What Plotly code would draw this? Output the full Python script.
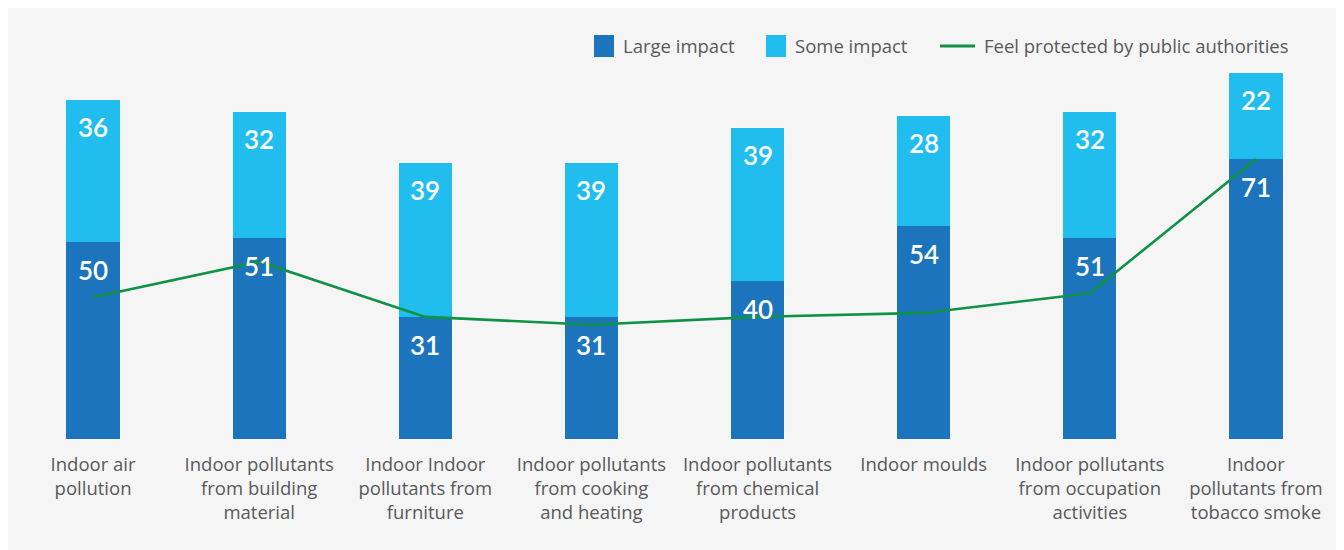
import plotly.graph_objects as go

categories = [
    "Indoor air<br>pollution",
    "Indoor pollutants<br>from building<br>material",
    "Indoor Indoor<br>pollutants from<br>furniture",
    "Indoor pollutants<br>from cooking<br>and heating",
    "Indoor pollutants<br>from chemical<br>products",
    "Indoor moulds",
    "Indoor pollutants<br>from occupation<br>activities",
    "Indoor<br>pollutants from<br>tobacco smoke",
]
large_impact = [50, 51, 31, 31, 40, 54, 51, 71]
some_impact = [36, 32, 39, 39, 39, 28, 32, 22]
feel_protected = [36, 45, 31, 29, 31, 32, 37, 71]
series_names = ["Large impact", "Some impact", "Feel protected by public authorities"]

DARK = "#1c75bc"
LIGHT = "#21bdee"
GREEN = "#0f9146"
GRAY_TXT = "#58595b"
TXT_FAMILY = "Open Sans, sans-serif"
LABEL_FONT = dict(family="Lato, sans-serif", size=26, color="white", weight=600)

# figure geometry (page is offset by 8px body margin)
W, H = 1332, 542
ml, mr, mt, mb = 2, 1, 37, 111
pw = W - ml - mr
ph = H - mt - mb
OFF = 8


def px(xpage):
    return (xpage - OFF - ml) / pw


def py(ypage):
    return (H - mb - (ypage - OFF)) / ph


fig = go.Figure()
fig.add_trace(go.Bar(x=categories, y=large_impact, name=series_names[0],
                     marker=dict(color=DARK, line=dict(width=0))))
fig.add_trace(go.Bar(x=categories, y=some_impact, name=series_names[1],
                     marker=dict(color=LIGHT, line=dict(width=0))))
fig.add_trace(go.Scatter(x=categories, y=feel_protected, name=series_names[2],
                         mode="lines", line=dict(color=GREEN, width=2.6)))

annotations = []
for c, l, s in zip(categories, large_impact, some_impact):
    annotations.append(dict(x=c, y=l, xref="x", yref="y", text=str(l), showarrow=False,
                            yanchor="middle", yshift=-28, font=LABEL_FONT))
    annotations.append(dict(x=c, y=l + s, xref="x", yref="y", text=str(s), showarrow=False,
                            yanchor="middle", yshift=-27, font=LABEL_FONT))

# custom legend
LEG_Y = 46
leg_font = dict(family=TXT_FAMILY, size=18.5, color=GRAY_TXT)
shapes = [
    dict(type="rect", xref="paper", yref="paper", x0=px(594), x1=px(614), y0=py(57), y1=py(35),
         fillcolor=DARK, line=dict(width=0)),
    dict(type="rect", xref="paper", yref="paper", x0=px(766), x1=px(786), y0=py(57), y1=py(35),
         fillcolor=LIGHT, line=dict(width=0)),
    dict(type="line", xref="paper", yref="paper", x0=px(940), x1=px(975), y0=py(LEG_Y), y1=py(LEG_Y),
         line=dict(color=GREEN, width=3)),
]
for name, xs in zip(series_names, [621, 793, 982]):
    annotations.append(dict(x=px(xs), y=py(LEG_Y), xref="paper", yref="paper", text=name,
                            showarrow=False, xanchor="left", yanchor="middle", font=leg_font))

fig.update_layout(
    width=W, height=H,
    margin=dict(l=ml, r=mr, t=mt, b=mb),
    barmode="stack", bargap=0.68,
    paper_bgcolor="#f5f5f5", plot_bgcolor="#f5f5f5",
    shapes=shapes,
    annotations=annotations,
    showlegend=False,
    xaxis=dict(showgrid=False, zeroline=False, showline=False, ticks="",
               ticklabelstandoff=12,
               tickfont=dict(family=TXT_FAMILY, size=18.5, color=GRAY_TXT)),
    yaxis=dict(range=[0, 100], showgrid=False, zeroline=False, showline=False,
               showticklabels=False, ticks=""),
)

fig.write_html("out.html")
